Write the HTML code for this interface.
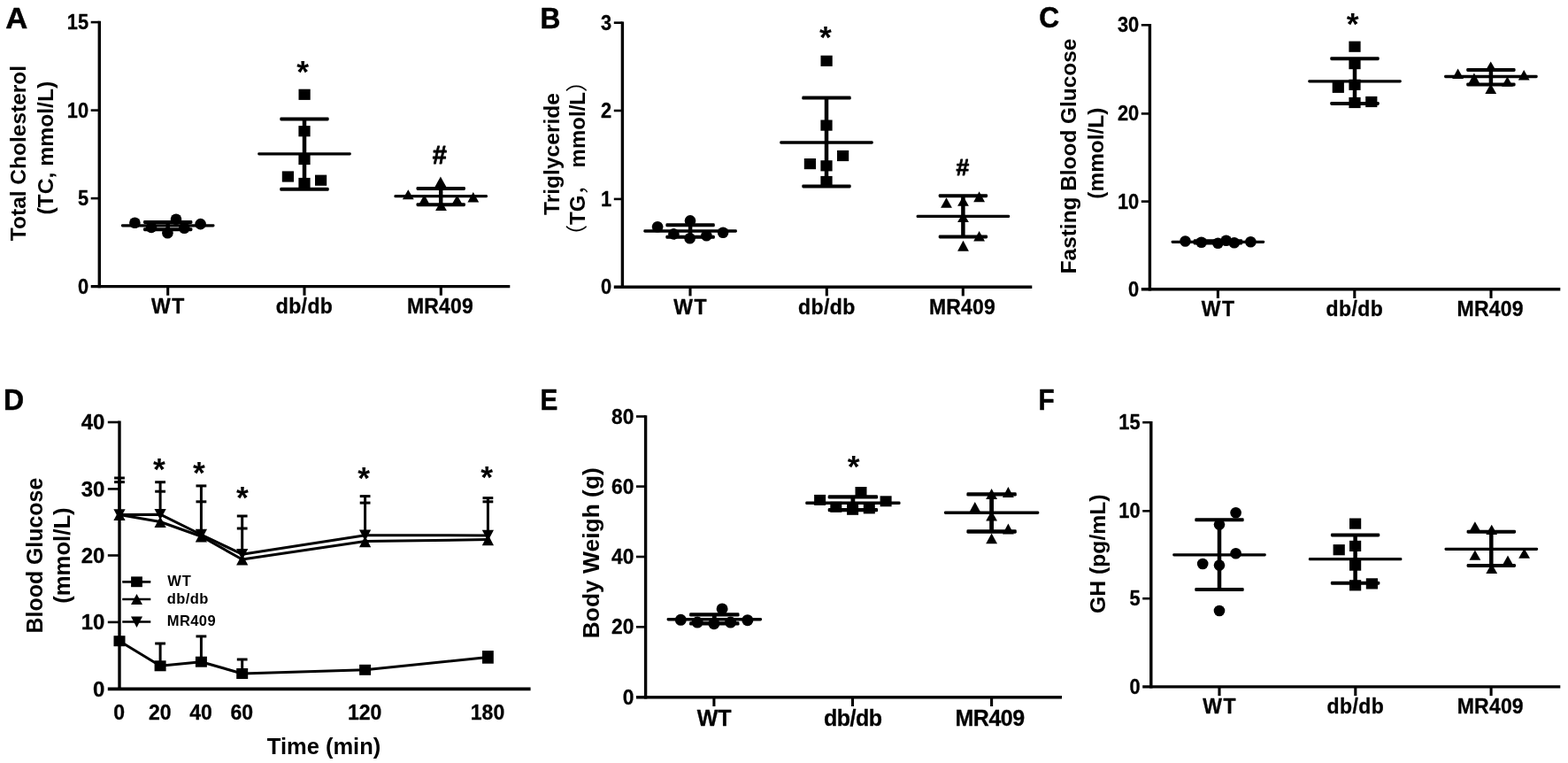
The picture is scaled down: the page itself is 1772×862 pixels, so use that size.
<!DOCTYPE html>
<html lang="en">
<head>
<meta charset="utf-8">
<title>Figure: metabolic parameters in WT, db/db and MR409 mice</title>
<style>
html,body{margin:0;padding:0;background:#fff;}
body{width:1772px;height:862px;overflow:hidden;}
svg{display:block;}
svg text{font-family:"Liberation Sans","Noto Sans CJK SC",sans-serif;font-weight:bold;fill:#000;}
</style>
</head>
<body>
<svg width="1772" height="862" viewBox="0 0 1772 862">
<rect x="0" y="0" width="1772" height="862" fill="#fff" stroke="none"/>
<g fill="#000" stroke="none">
<g id="panelA">
<text x="0" y="0" font-size="33" text-anchor="start" stroke="#000" stroke-width="0.5" stroke-linejoin="round" transform="translate(6.3 31.5) scale(1.05 1)">A</text>
<line stroke="#000" x1="112.3" y1="23.8" x2="112.3" y2="325.3" stroke-width="3.4" stroke-linecap="butt"/>
<line stroke="#000" x1="102.7" y1="323.6" x2="576.3" y2="323.6" stroke-width="3.4" stroke-linecap="butt"/>
<line stroke="#000" x1="102.7" y1="25.1" x2="112.3" y2="25.1" stroke-width="2.6" stroke-linecap="butt"/>
<text x="0" y="0" font-size="23" text-anchor="end" stroke="#000" stroke-width="0.3" stroke-linejoin="round" transform="translate(100.1 33.1) scale(0.95 1)">15</text>
<line stroke="#000" x1="102.7" y1="124.6" x2="112.3" y2="124.6" stroke-width="2.6" stroke-linecap="butt"/>
<text x="0" y="0" font-size="23" text-anchor="end" stroke="#000" stroke-width="0.3" stroke-linejoin="round" transform="translate(100.1 132.6) scale(0.95 1)">10</text>
<line stroke="#000" x1="102.7" y1="224.1" x2="112.3" y2="224.1" stroke-width="2.6" stroke-linecap="butt"/>
<text x="0" y="0" font-size="23" text-anchor="end" stroke="#000" stroke-width="0.3" stroke-linejoin="round" transform="translate(100.1 232.1) scale(0.95 1)">5</text>
<text x="0" y="0" font-size="23" text-anchor="end" stroke="#000" stroke-width="0.3" stroke-linejoin="round" transform="translate(100.1 331.6) scale(0.95 1)">0</text>
<line stroke="#000" x1="189.7" y1="323.6" x2="189.7" y2="333.8" stroke-width="3.1" stroke-linecap="butt"/>
<text x="190.4" y="353.9" font-size="23" text-anchor="middle" letter-spacing="1.5" stroke="#000" stroke-width="0.3" stroke-linejoin="round">WT</text>
<line stroke="#000" x1="344.0" y1="323.6" x2="344.0" y2="333.8" stroke-width="3.1" stroke-linecap="butt"/>
<text x="344.0" y="353.9" font-size="23" text-anchor="middle" letter-spacing="0.4" stroke="#000" stroke-width="0.3" stroke-linejoin="round">db/db</text>
<line stroke="#000" x1="498.3" y1="323.6" x2="498.3" y2="333.8" stroke-width="3.1" stroke-linecap="butt"/>
<text x="497.5" y="353.9" font-size="23" text-anchor="middle" letter-spacing="0.2" stroke="#000" stroke-width="0.3" stroke-linejoin="round">MR409</text>
<text x="0" y="0" font-size="24.5" text-anchor="middle" transform="translate(29.0 173.0) rotate(-90)">Total Cholesterol</text>
<text x="0" y="0" font-size="24.7" text-anchor="middle" transform="translate(59.6 167.2) rotate(-90)">(TC, mmol/L)</text>
<rect x="136.9" y="253.15" width="105.6" height="3.3" rx="1.4"/>
<rect x="162.0" y="249.00" width="55.4" height="4.0" rx="1.4"/>
<rect x="162.0" y="257.20" width="55.4" height="4.0" rx="1.4"/>
<line stroke="#000" x1="189.7" y1="251.0" x2="189.7" y2="259.2" stroke-width="4.5" stroke-linecap="butt"/>
<circle cx="152.4" cy="251.8" r="6.3"/>
<circle cx="171.0" cy="256.9" r="6.3"/>
<circle cx="189.4" cy="263.3" r="6.3"/>
<circle cx="199.0" cy="247.7" r="6.3"/>
<circle cx="208.3" cy="257.7" r="6.3"/>
<circle cx="226.6" cy="253.1" r="6.3"/>
<rect x="291.2" y="172.15" width="105.6" height="3.3" rx="1.4"/>
<rect x="316.3" y="132.50" width="55.4" height="4.0" rx="1.4"/>
<rect x="316.3" y="211.80" width="55.4" height="4.0" rx="1.4"/>
<line stroke="#000" x1="344.0" y1="134.5" x2="344.0" y2="213.8" stroke-width="4.5" stroke-linecap="butt"/>
<rect x="337.5" y="100.7" width="13.2" height="12.2"/>
<rect x="337.4" y="142.1" width="13.2" height="12.2"/>
<rect x="337.4" y="173.9" width="13.2" height="12.2"/>
<rect x="318.8" y="193.4" width="13.2" height="12.2"/>
<rect x="356.0" y="197.6" width="13.2" height="12.2"/>
<rect x="337.4" y="200.9" width="13.2" height="12.2"/>
<rect x="445.4" y="220.05" width="105.6" height="3.3" rx="1.4"/>
<rect x="470.5" y="211.00" width="55.4" height="4.0" rx="1.4"/>
<rect x="470.5" y="229.20" width="55.4" height="4.0" rx="1.4"/>
<line stroke="#000" x1="498.2" y1="213.0" x2="498.2" y2="231.2" stroke-width="4.5" stroke-linecap="butt"/>
<polygon points="454.9,225.3 467.7,225.3 461.3,214.2"/>
<polygon points="473.1,231.6 485.9,231.6 479.5,219.8"/>
<polygon points="491.5,210.9 504.3,210.9 497.9,199.5"/>
<polygon points="492.1,237.9 504.9,237.9 498.5,226.5"/>
<polygon points="510.2,231.6 523.0,231.6 516.6,220.5"/>
<polygon points="528.4,228.6 541.2,228.6 534.8,217.0"/>
<text x="342.2" y="92.9" font-size="35.5" text-anchor="middle">*</text>
<text x="496.9" y="185.1" font-size="29" text-anchor="middle" stroke="#000" stroke-width="0.8" stroke-linejoin="round">#</text>
</g>
<g id="panelB">
<text x="0" y="0" font-size="33" text-anchor="start" stroke="#000" stroke-width="0.5" stroke-linejoin="round" transform="translate(610.6 31.8) scale(0.96 1)">B</text>
<line stroke="#000" x1="703.4" y1="24.4" x2="703.4" y2="325.9" stroke-width="3.4" stroke-linecap="butt"/>
<line stroke="#000" x1="693.8" y1="324.2" x2="1166.3" y2="324.2" stroke-width="3.4" stroke-linecap="butt"/>
<line stroke="#000" x1="693.8" y1="25.7" x2="703.4" y2="25.7" stroke-width="2.6" stroke-linecap="butt"/>
<text x="0" y="0" font-size="23" text-anchor="end" stroke="#000" stroke-width="0.3" stroke-linejoin="round" transform="translate(691.2 33.7) scale(0.95 1)">3</text>
<line stroke="#000" x1="693.8" y1="125.0" x2="703.4" y2="125.0" stroke-width="2.6" stroke-linecap="butt"/>
<text x="0" y="0" font-size="23" text-anchor="end" stroke="#000" stroke-width="0.3" stroke-linejoin="round" transform="translate(691.2 133.0) scale(0.95 1)">2</text>
<line stroke="#000" x1="693.8" y1="224.9" x2="703.4" y2="224.9" stroke-width="2.6" stroke-linecap="butt"/>
<text x="0" y="0" font-size="23" text-anchor="end" stroke="#000" stroke-width="0.3" stroke-linejoin="round" transform="translate(691.2 232.9) scale(0.95 1)">1</text>
<text x="0" y="0" font-size="23" text-anchor="end" stroke="#000" stroke-width="0.3" stroke-linejoin="round" transform="translate(691.2 332.2) scale(0.95 1)">0</text>
<line stroke="#000" x1="780.0" y1="324.2" x2="780.0" y2="334.4" stroke-width="3.1" stroke-linecap="butt"/>
<text x="780.7" y="354.8" font-size="23" text-anchor="middle" letter-spacing="1.5" stroke="#000" stroke-width="0.3" stroke-linejoin="round">WT</text>
<line stroke="#000" x1="934.3" y1="324.2" x2="934.3" y2="334.4" stroke-width="3.1" stroke-linecap="butt"/>
<text x="934.3" y="354.8" font-size="23" text-anchor="middle" letter-spacing="0.4" stroke="#000" stroke-width="0.3" stroke-linejoin="round">db/db</text>
<line stroke="#000" x1="1088.3" y1="324.2" x2="1088.3" y2="334.4" stroke-width="3.1" stroke-linecap="butt"/>
<text x="1087.5" y="354.8" font-size="23" text-anchor="middle" letter-spacing="0.2" stroke="#000" stroke-width="0.3" stroke-linejoin="round">MR409</text>
<text x="0" y="0" font-size="24.6" text-anchor="middle" transform="translate(631.5 174.0) rotate(-90)">Triglyceride</text>
<text x="661.0" y="179.0" font-size="24" text-anchor="middle" transform="rotate(-90 661.0 179.0)"><tspan font-weight="normal" font-size="24.6">（</tspan>TG<tspan font-weight="normal" font-size="24.6">，</tspan> mmol/L<tspan font-weight="normal" font-size="24.6">）</tspan></text>
<rect x="727.3" y="259.35" width="105.6" height="3.3" rx="1.4"/>
<rect x="752.4" y="252.30" width="55.4" height="4.0" rx="1.4"/>
<rect x="752.4" y="265.80" width="55.4" height="4.0" rx="1.4"/>
<line stroke="#000" x1="780.1" y1="254.3" x2="780.1" y2="267.8" stroke-width="4.5" stroke-linecap="butt"/>
<circle cx="743.1" cy="256.3" r="6.3"/>
<circle cx="761.4" cy="264.4" r="6.3"/>
<circle cx="780.0" cy="249.4" r="6.3"/>
<circle cx="779.6" cy="269.3" r="6.3"/>
<circle cx="798.4" cy="266.2" r="6.3"/>
<circle cx="817.1" cy="262.8" r="6.3"/>
<rect x="881.2" y="159.35" width="105.6" height="3.3" rx="1.4"/>
<rect x="906.3" y="108.60" width="55.4" height="4.0" rx="1.4"/>
<rect x="906.3" y="208.40" width="55.4" height="4.0" rx="1.4"/>
<line stroke="#000" x1="934.0" y1="110.6" x2="934.0" y2="210.4" stroke-width="4.5" stroke-linecap="butt"/>
<rect x="927.5" y="62.7" width="13.2" height="12.2"/>
<rect x="927.4" y="135.5" width="13.2" height="12.2"/>
<rect x="946.0" y="169.9" width="13.2" height="12.2"/>
<rect x="908.8" y="179.0" width="13.2" height="12.2"/>
<rect x="927.4" y="181.2" width="13.2" height="12.2"/>
<rect x="927.4" y="198.9" width="13.2" height="12.2"/>
<rect x="1035.6" y="242.75" width="105.6" height="3.3" rx="1.4"/>
<rect x="1060.7" y="219.20" width="55.4" height="4.0" rx="1.4"/>
<rect x="1060.7" y="265.50" width="55.4" height="4.0" rx="1.4"/>
<line stroke="#000" x1="1088.4" y1="221.2" x2="1088.4" y2="267.5" stroke-width="4.5" stroke-linecap="butt"/>
<polygon points="1063.1,234.7 1075.9,234.7 1069.5,223.3"/>
<polygon points="1082.1,232.7 1094.9,232.7 1088.5,221.5"/>
<polygon points="1100.2,228.2 1113.0,228.2 1106.6,216.3"/>
<polygon points="1082.1,250.9 1094.9,250.9 1088.5,240.0"/>
<polygon points="1100.2,272.6 1113.0,272.6 1106.6,261.0"/>
<polygon points="1082.1,283.7 1094.9,283.7 1088.5,271.8"/>
<text x="932.8" y="53.5" font-size="35.5" text-anchor="middle">*</text>
<text x="1087.9" y="197.9" font-size="26.5" text-anchor="middle" stroke="#000" stroke-width="0.8" stroke-linejoin="round">#</text>
</g>
<g id="panelC">
<text x="0" y="0" font-size="33" text-anchor="start" stroke="#000" stroke-width="0.5" stroke-linejoin="round" transform="translate(1174.3 30.8) scale(0.96 1)">C</text>
<line stroke="#000" x1="1299.4" y1="27.0" x2="1299.4" y2="328.5" stroke-width="3.4" stroke-linecap="butt"/>
<line stroke="#000" x1="1289.8" y1="326.8" x2="1763.3" y2="326.8" stroke-width="3.4" stroke-linecap="butt"/>
<line stroke="#000" x1="1289.8" y1="28.3" x2="1299.4" y2="28.3" stroke-width="2.6" stroke-linecap="butt"/>
<text x="0" y="0" font-size="23" text-anchor="end" stroke="#000" stroke-width="0.3" stroke-linejoin="round" transform="translate(1287.2 36.3) scale(0.95 1)">30</text>
<line stroke="#000" x1="1289.8" y1="128.4" x2="1299.4" y2="128.4" stroke-width="2.6" stroke-linecap="butt"/>
<text x="0" y="0" font-size="23" text-anchor="end" stroke="#000" stroke-width="0.3" stroke-linejoin="round" transform="translate(1287.2 136.4) scale(0.95 1)">20</text>
<line stroke="#000" x1="1289.8" y1="227.6" x2="1299.4" y2="227.6" stroke-width="2.6" stroke-linecap="butt"/>
<text x="0" y="0" font-size="23" text-anchor="end" stroke="#000" stroke-width="0.3" stroke-linejoin="round" transform="translate(1287.2 235.6) scale(0.95 1)">10</text>
<text x="0" y="0" font-size="23" text-anchor="end" stroke="#000" stroke-width="0.3" stroke-linejoin="round" transform="translate(1287.2 334.8) scale(0.95 1)">0</text>
<line stroke="#000" x1="1376.4" y1="326.8" x2="1376.4" y2="337.0" stroke-width="3.1" stroke-linecap="butt"/>
<text x="1377.1" y="357.3" font-size="23" text-anchor="middle" letter-spacing="1.5" stroke="#000" stroke-width="0.3" stroke-linejoin="round">WT</text>
<line stroke="#000" x1="1530.8" y1="326.8" x2="1530.8" y2="337.0" stroke-width="3.1" stroke-linecap="butt"/>
<text x="1530.8" y="357.3" font-size="23" text-anchor="middle" letter-spacing="0.4" stroke="#000" stroke-width="0.3" stroke-linejoin="round">db/db</text>
<line stroke="#000" x1="1685.0" y1="326.8" x2="1685.0" y2="337.0" stroke-width="3.1" stroke-linecap="butt"/>
<text x="1684.2" y="357.3" font-size="23" text-anchor="middle" letter-spacing="0.2" stroke="#000" stroke-width="0.3" stroke-linejoin="round">MR409</text>
<text x="0" y="0" font-size="24.4" text-anchor="middle" transform="translate(1216.0 176.5) rotate(-90)">Fasting Blood Glucose</text>
<text x="0" y="0" font-size="24.4" text-anchor="middle" transform="translate(1246.6 173.2) rotate(-90)">(mmol/L)</text>
<rect x="1323.6" y="271.65" width="105.6" height="3.3" rx="1.4"/>
<rect x="1348.7" y="270.20" width="55.4" height="4.0" rx="1.4"/>
<rect x="1348.7" y="272.60" width="55.4" height="4.0" rx="1.4"/>
<line stroke="#000" x1="1376.4" y1="272.2" x2="1376.4" y2="274.6" stroke-width="4.5" stroke-linecap="butt"/>
<circle cx="1339.5" cy="272.5" r="6.3"/>
<circle cx="1357.7" cy="273.7" r="6.3"/>
<circle cx="1376.4" cy="274.7" r="6.3"/>
<circle cx="1385.7" cy="271.7" r="6.3"/>
<circle cx="1394.8" cy="274.3" r="6.3"/>
<circle cx="1413.4" cy="273.3" r="6.3"/>
<rect x="1478.2" y="90.15" width="105.6" height="3.3" rx="1.4"/>
<rect x="1503.3" y="64.20" width="55.4" height="4.0" rx="1.4"/>
<rect x="1503.3" y="114.90" width="55.4" height="4.0" rx="1.4"/>
<line stroke="#000" x1="1531.0" y1="66.2" x2="1531.0" y2="116.9" stroke-width="4.5" stroke-linecap="butt"/>
<rect x="1524.4" y="46.6" width="13.2" height="12.2"/>
<rect x="1524.4" y="66.0" width="13.2" height="12.2"/>
<rect x="1505.7" y="92.7" width="13.2" height="12.2"/>
<rect x="1524.4" y="89.7" width="13.2" height="12.2"/>
<rect x="1524.4" y="109.9" width="13.2" height="12.2"/>
<rect x="1543.2" y="108.9" width="13.2" height="12.2"/>
<rect x="1632.1" y="84.85" width="105.6" height="3.3" rx="1.4"/>
<rect x="1657.2" y="77.00" width="55.4" height="4.0" rx="1.4"/>
<rect x="1657.2" y="93.40" width="55.4" height="4.0" rx="1.4"/>
<line stroke="#000" x1="1684.9" y1="79.0" x2="1684.9" y2="95.4" stroke-width="4.5" stroke-linecap="butt"/>
<polygon points="1641.2,88.9 1654.0,88.9 1647.6,77.5"/>
<polygon points="1659.5,94.4 1672.3,94.4 1665.9,82.5"/>
<polygon points="1678.3,80.5 1691.1,80.5 1684.7,69.5"/>
<polygon points="1678.3,106.1 1691.1,106.1 1684.7,94.5"/>
<polygon points="1697.1,97.8 1709.9,97.8 1703.5,86.5"/>
<polygon points="1715.8,90.5 1728.6,90.5 1722.2,79.0"/>
<text x="1528.7" y="38.7" font-size="35.5" text-anchor="middle">*</text>
</g>
<g id="panelD">
<text x="0" y="0" font-size="33" text-anchor="start" stroke="#000" stroke-width="0.5" stroke-linejoin="round" transform="translate(4.0 463.2) scale(0.97 1)">D</text>
<line stroke="#000" x1="135.0" y1="475.4" x2="135.0" y2="780.0" stroke-width="3.4" stroke-linecap="butt"/>
<line stroke="#000" x1="121.8" y1="778.3" x2="599.6" y2="778.3" stroke-width="3.8" stroke-linecap="butt"/>
<line stroke="#000" x1="121.8" y1="477.0" x2="135.0" y2="477.0" stroke-width="2.6" stroke-linecap="butt"/>
<text x="118.4" y="485.1" font-size="24" text-anchor="end" stroke="#000" stroke-width="0.3" stroke-linejoin="round">40</text>
<line stroke="#000" x1="121.8" y1="552.4" x2="135.0" y2="552.4" stroke-width="2.6" stroke-linecap="butt"/>
<text x="118.4" y="560.5" font-size="24" text-anchor="end" stroke="#000" stroke-width="0.3" stroke-linejoin="round">30</text>
<line stroke="#000" x1="121.8" y1="627.5" x2="135.0" y2="627.5" stroke-width="2.6" stroke-linecap="butt"/>
<text x="118.4" y="635.6" font-size="24" text-anchor="end" stroke="#000" stroke-width="0.3" stroke-linejoin="round">20</text>
<line stroke="#000" x1="121.8" y1="702.9" x2="135.0" y2="702.9" stroke-width="2.6" stroke-linecap="butt"/>
<text x="118.4" y="711.0" font-size="24" text-anchor="end" stroke="#000" stroke-width="0.3" stroke-linejoin="round">10</text>
<text x="118.4" y="786.7" font-size="24" text-anchor="end" stroke="#000" stroke-width="0.3" stroke-linejoin="round">0</text>
<text x="0" y="0" font-size="23.5" text-anchor="middle" stroke="#000" stroke-width="0.3" stroke-linejoin="round" transform="translate(134.6 812.6) scale(0.98 1)">0</text>
<text x="0" y="0" font-size="23.5" text-anchor="middle" stroke="#000" stroke-width="0.3" stroke-linejoin="round" transform="translate(180.7 812.6) scale(0.98 1)">20</text>
<text x="0" y="0" font-size="23.5" text-anchor="middle" stroke="#000" stroke-width="0.3" stroke-linejoin="round" transform="translate(227.0 812.6) scale(0.98 1)">40</text>
<text x="0" y="0" font-size="23.5" text-anchor="middle" stroke="#000" stroke-width="0.3" stroke-linejoin="round" transform="translate(273.3 812.6) scale(0.98 1)">60</text>
<text x="0" y="0" font-size="23.5" text-anchor="middle" stroke="#000" stroke-width="0.3" stroke-linejoin="round" transform="translate(412.2 812.6) scale(0.98 1)">120</text>
<text x="0" y="0" font-size="23.5" text-anchor="middle" stroke="#000" stroke-width="0.3" stroke-linejoin="round" transform="translate(551.0 812.6) scale(0.98 1)">180</text>
<text x="366.0" y="852.0" font-size="25.5" text-anchor="middle">Time (min)</text>
<text x="0" y="0" font-size="24.9" text-anchor="middle" transform="translate(48.4 627.6) rotate(-90)">Blood Glucose</text>
<text x="0" y="0" font-size="25.7" text-anchor="middle" transform="translate(78.8 627.6) rotate(-90)">(mmol/L)</text>
<line stroke="#000" x1="135.0" y1="581.4" x2="135.0" y2="540.0" stroke-width="3.0" stroke-linecap="butt"/>
<line stroke="#000" x1="129.1" y1="540.0" x2="140.9" y2="540.0" stroke-width="3.0" stroke-linecap="butt"/>
<line stroke="#000" x1="129.1" y1="544.6" x2="140.9" y2="544.6" stroke-width="3.0" stroke-linecap="butt"/>
<line stroke="#000" x1="181.1" y1="581.2" x2="181.1" y2="544.7" stroke-width="3.0" stroke-linecap="butt"/>
<line stroke="#000" x1="175.2" y1="544.7" x2="187.0" y2="544.7" stroke-width="3.0" stroke-linecap="butt"/>
<line stroke="#000" x1="175.2" y1="555.2" x2="187.0" y2="555.2" stroke-width="3.0" stroke-linecap="butt"/>
<line stroke="#000" x1="227.4" y1="604.0" x2="227.4" y2="548.9" stroke-width="3.0" stroke-linecap="butt"/>
<line stroke="#000" x1="221.5" y1="548.9" x2="233.3" y2="548.9" stroke-width="3.0" stroke-linecap="butt"/>
<line stroke="#000" x1="221.5" y1="566.8" x2="233.3" y2="566.8" stroke-width="3.0" stroke-linecap="butt"/>
<line stroke="#000" x1="273.7" y1="626.2" x2="273.7" y2="583.0" stroke-width="3.0" stroke-linecap="butt"/>
<line stroke="#000" x1="267.8" y1="583.0" x2="279.6" y2="583.0" stroke-width="3.0" stroke-linecap="butt"/>
<line stroke="#000" x1="267.8" y1="597.0" x2="279.6" y2="597.0" stroke-width="3.0" stroke-linecap="butt"/>
<line stroke="#000" x1="412.6" y1="604.8" x2="412.6" y2="560.6" stroke-width="3.0" stroke-linecap="butt"/>
<line stroke="#000" x1="406.7" y1="560.6" x2="418.5" y2="560.6" stroke-width="3.0" stroke-linecap="butt"/>
<line stroke="#000" x1="406.7" y1="568.1" x2="418.5" y2="568.1" stroke-width="3.0" stroke-linecap="butt"/>
<line stroke="#000" x1="551.4" y1="604.9" x2="551.4" y2="562.6" stroke-width="3.0" stroke-linecap="butt"/>
<line stroke="#000" x1="545.5" y1="562.6" x2="557.3" y2="562.6" stroke-width="3.0" stroke-linecap="butt"/>
<line stroke="#000" x1="545.5" y1="566.8" x2="557.3" y2="566.8" stroke-width="3.0" stroke-linecap="butt"/>
<line stroke="#000" x1="181.1" y1="752.3" x2="181.1" y2="727.0" stroke-width="3.0" stroke-linecap="butt"/>
<line stroke="#000" x1="175.2" y1="727.0" x2="187.0" y2="727.0" stroke-width="3.0" stroke-linecap="butt"/>
<line stroke="#000" x1="227.4" y1="747.7" x2="227.4" y2="718.9" stroke-width="3.0" stroke-linecap="butt"/>
<line stroke="#000" x1="221.5" y1="718.9" x2="233.3" y2="718.9" stroke-width="3.0" stroke-linecap="butt"/>
<line stroke="#000" x1="273.7" y1="761.0" x2="273.7" y2="745.0" stroke-width="3.0" stroke-linecap="butt"/>
<line stroke="#000" x1="267.8" y1="745.0" x2="279.6" y2="745.0" stroke-width="3.0" stroke-linecap="butt"/>
<polyline fill="none" stroke="#000" stroke-width="3.0" stroke-linejoin="round" points="135.0,581.4 181.1,589.5 227.4,606.0 273.7,632.0 412.6,611.6 551.4,609.6"/>
<polyline fill="none" stroke="#000" stroke-width="3.0" stroke-linejoin="round" points="135.0,581.4 181.1,581.2 227.4,604.0 273.7,626.2 412.6,604.8 551.4,604.9"/>
<polyline fill="none" stroke="#000" stroke-width="3.0" stroke-linejoin="round" points="135.0,724.2 181.1,752.3 227.4,747.7 273.7,761.0 412.6,756.8 551.4,742.4"/>
<polygon points="128.4,588.0 141.6,588.0 135.0,575.4"/>
<polygon points="128.4,575.2 141.6,575.2 135.0,587.8"/>
<rect x="128.5" y="718.2" width="13.0" height="12.0"/>
<polygon points="174.5,596.1 187.7,596.1 181.1,583.5"/>
<polygon points="174.5,575.0 187.7,575.0 181.1,587.6"/>
<rect x="174.6" y="746.3" width="13.0" height="12.0"/>
<polygon points="220.8,612.6 234.0,612.6 227.4,600.0"/>
<polygon points="220.8,597.8 234.0,597.8 227.4,610.4"/>
<rect x="220.9" y="741.7" width="13.0" height="12.0"/>
<polygon points="267.1,638.6 280.3,638.6 273.7,626.0"/>
<polygon points="267.1,620.0 280.3,620.0 273.7,632.6"/>
<rect x="267.2" y="755.0" width="13.0" height="12.0"/>
<polygon points="406.0,618.2 419.2,618.2 412.6,605.6"/>
<polygon points="406.0,598.6 419.2,598.6 412.6,611.2"/>
<rect x="406.1" y="750.8" width="13.0" height="12.0"/>
<polygon points="544.8,616.2 558.0,616.2 551.4,603.6"/>
<polygon points="544.8,598.7 558.0,598.7 551.4,611.3"/>
<rect x="545.0" y="735.1" width="12.8" height="14.6"/>
<line stroke="#000" x1="138.2" y1="657.3" x2="170.3" y2="657.3" stroke-width="2.7" stroke-linecap="butt"/>
<rect x="148.1" y="651.4" width="12.8" height="11.8"/>
<line stroke="#000" x1="138.2" y1="677.0" x2="170.3" y2="677.0" stroke-width="2.7" stroke-linecap="butt"/>
<polygon points="148.0,683.0 161.0,683.0 154.5,671.0"/>
<line stroke="#000" x1="138.2" y1="702.5" x2="170.3" y2="702.5" stroke-width="2.7" stroke-linecap="butt"/>
<polygon points="148.0,696.5 161.0,696.5 154.5,709.0"/>
<text x="189.2" y="662.0" font-size="16.5" text-anchor="start" letter-spacing="1.0">WT</text>
<text x="188.8" y="681.8" font-size="16.5" text-anchor="start" letter-spacing="0.4">db/db</text>
<text x="188.8" y="707.4" font-size="16.5" text-anchor="start" letter-spacing="0.4">MR409</text>
<text x="180.0" y="542.2" font-size="35.5" text-anchor="middle">*</text>
<text x="224.8" y="546.3" font-size="35.5" text-anchor="middle">*</text>
<text x="273.8" y="573.8" font-size="35.5" text-anchor="middle">*</text>
<text x="411.1" y="551.6" font-size="35.5" text-anchor="middle">*</text>
<text x="550.2" y="550.6" font-size="35.5" text-anchor="middle">*</text>
</g>
<g id="panelE">
<text x="0" y="0" font-size="33" text-anchor="start" stroke="#000" stroke-width="0.5" stroke-linejoin="round" transform="translate(610.6 463.2) scale(0.9 1)">E</text>
<line stroke="#000" x1="729.6" y1="469.2" x2="729.6" y2="789.5" stroke-width="3.4" stroke-linecap="butt"/>
<line stroke="#000" x1="719.0" y1="787.8" x2="1200.0" y2="787.8" stroke-width="3.4" stroke-linecap="butt"/>
<line stroke="#000" x1="719.0" y1="470.5" x2="729.6" y2="470.5" stroke-width="2.6" stroke-linecap="butt"/>
<text x="0" y="0" font-size="24" text-anchor="end" stroke="#000" stroke-width="0.3" stroke-linejoin="round" transform="translate(716.4 478.5) scale(0.95 1)">80</text>
<line stroke="#000" x1="719.0" y1="549.6" x2="729.6" y2="549.6" stroke-width="2.6" stroke-linecap="butt"/>
<text x="0" y="0" font-size="24" text-anchor="end" stroke="#000" stroke-width="0.3" stroke-linejoin="round" transform="translate(716.4 557.6) scale(0.95 1)">60</text>
<line stroke="#000" x1="719.0" y1="629.0" x2="729.6" y2="629.0" stroke-width="2.6" stroke-linecap="butt"/>
<text x="0" y="0" font-size="24" text-anchor="end" stroke="#000" stroke-width="0.3" stroke-linejoin="round" transform="translate(716.4 637.0) scale(0.95 1)">40</text>
<line stroke="#000" x1="719.0" y1="708.3" x2="729.6" y2="708.3" stroke-width="2.6" stroke-linecap="butt"/>
<text x="0" y="0" font-size="24" text-anchor="end" stroke="#000" stroke-width="0.3" stroke-linejoin="round" transform="translate(716.4 716.3) scale(0.95 1)">20</text>
<text x="0" y="0" font-size="24" text-anchor="end" stroke="#000" stroke-width="0.3" stroke-linejoin="round" transform="translate(716.4 795.8) scale(0.95 1)">0</text>
<line stroke="#000" x1="806.9" y1="787.8" x2="806.9" y2="798.0" stroke-width="3.1" stroke-linecap="butt"/>
<text x="807.1" y="820.2" font-size="25" text-anchor="middle" stroke="#000" stroke-width="0.3" stroke-linejoin="round">WT</text>
<line stroke="#000" x1="963.5" y1="787.8" x2="963.5" y2="798.0" stroke-width="3.1" stroke-linecap="butt"/>
<text x="963.8" y="820.2" font-size="25" text-anchor="middle" letter-spacing="-0.5" stroke="#000" stroke-width="0.3" stroke-linejoin="round">db/db</text>
<line stroke="#000" x1="1120.6" y1="787.8" x2="1120.6" y2="798.0" stroke-width="3.1" stroke-linecap="butt"/>
<text x="1118.6" y="820.2" font-size="25" text-anchor="middle" letter-spacing="-0.5" stroke="#000" stroke-width="0.3" stroke-linejoin="round">MR409</text>
<text x="0" y="0" font-size="26.4" text-anchor="middle" transform="translate(676.8 624.7) rotate(-90)">Body Weigh (g)</text>
<rect x="753.6" y="697.90" width="107.4" height="3.6" rx="1.4"/>
<rect x="779.1" y="692.25" width="56.4" height="4.3" rx="1.4"/>
<rect x="779.1" y="702.25" width="56.4" height="4.3" rx="1.4"/>
<line stroke="#000" x1="807.3" y1="694.4" x2="807.3" y2="704.4" stroke-width="4.8" stroke-linecap="butt"/>
<circle cx="769.3" cy="700.3" r="6.5"/>
<circle cx="788.1" cy="703.1" r="6.5"/>
<circle cx="806.9" cy="704.7" r="6.5"/>
<circle cx="816.1" cy="687.9" r="6.5"/>
<circle cx="825.6" cy="703.1" r="6.5"/>
<circle cx="844.8" cy="700.7" r="6.5"/>
<rect x="910.2" y="566.50" width="107.4" height="3.6" rx="1.4"/>
<rect x="935.7" y="559.25" width="56.4" height="4.3" rx="1.4"/>
<rect x="935.7" y="574.05" width="56.4" height="4.3" rx="1.4"/>
<line stroke="#000" x1="963.9" y1="561.4" x2="963.9" y2="576.2" stroke-width="4.8" stroke-linecap="butt"/>
<rect x="920.1" y="558.9" width="13.0" height="12.0"/>
<rect x="938.3" y="566.8" width="13.0" height="12.0"/>
<rect x="957.1" y="569.8" width="13.0" height="12.0"/>
<rect x="966.5" y="550.0" width="13.0" height="12.0"/>
<rect x="975.8" y="568.4" width="13.0" height="12.0"/>
<rect x="994.6" y="560.3" width="13.0" height="12.0"/>
<rect x="1066.9" y="577.40" width="107.4" height="3.6" rx="1.4"/>
<rect x="1092.4" y="556.25" width="56.4" height="4.3" rx="1.4"/>
<rect x="1092.4" y="598.35" width="56.4" height="4.3" rx="1.4"/>
<line stroke="#000" x1="1120.6" y1="558.4" x2="1120.6" y2="600.5" stroke-width="4.8" stroke-linecap="butt"/>
<polygon points="1095.4,578.8 1108.2,578.8 1101.8,567.0"/>
<polygon points="1114.2,564.0 1127.0,564.0 1120.6,552.1"/>
<polygon points="1133.0,562.0 1145.8,562.0 1139.4,550.1"/>
<polygon points="1114.2,588.6 1127.0,588.6 1120.6,577.0"/>
<polygon points="1133.0,603.4 1145.8,603.4 1139.4,591.5"/>
<polygon points="1114.2,614.3 1127.0,614.3 1120.6,602.5"/>
<text x="964.6" y="538.5" font-size="35.5" text-anchor="middle">*</text>
</g>
<g id="panelF">
<text x="0" y="0" font-size="33" text-anchor="start" stroke="#000" stroke-width="0.5" stroke-linejoin="round" transform="translate(1173.6 463.2) scale(0.9 1)">F</text>
<line stroke="#000" x1="1300.8" y1="475.9" x2="1300.8" y2="777.6" stroke-width="3.4" stroke-linecap="butt"/>
<line stroke="#000" x1="1291.2" y1="775.9" x2="1763.3" y2="775.9" stroke-width="3.4" stroke-linecap="butt"/>
<line stroke="#000" x1="1291.2" y1="477.2" x2="1300.8" y2="477.2" stroke-width="2.6" stroke-linecap="butt"/>
<text x="0" y="0" font-size="23" text-anchor="end" stroke="#000" stroke-width="0.3" stroke-linejoin="round" transform="translate(1288.6 485.2) scale(0.95 1)">15</text>
<line stroke="#000" x1="1291.2" y1="577.3" x2="1300.8" y2="577.3" stroke-width="2.6" stroke-linecap="butt"/>
<text x="0" y="0" font-size="23" text-anchor="end" stroke="#000" stroke-width="0.3" stroke-linejoin="round" transform="translate(1288.6 585.3) scale(0.95 1)">10</text>
<line stroke="#000" x1="1291.2" y1="676.2" x2="1300.8" y2="676.2" stroke-width="2.6" stroke-linecap="butt"/>
<text x="0" y="0" font-size="23" text-anchor="end" stroke="#000" stroke-width="0.3" stroke-linejoin="round" transform="translate(1288.6 684.2) scale(0.95 1)">5</text>
<text x="0" y="0" font-size="23" text-anchor="end" stroke="#000" stroke-width="0.3" stroke-linejoin="round" transform="translate(1288.6 783.9) scale(0.95 1)">0</text>
<line stroke="#000" x1="1378.0" y1="775.9" x2="1378.0" y2="786.1" stroke-width="3.1" stroke-linecap="butt"/>
<text x="1378.7" y="806.2" font-size="23" text-anchor="middle" letter-spacing="1.5" stroke="#000" stroke-width="0.3" stroke-linejoin="round">WT</text>
<line stroke="#000" x1="1531.8" y1="775.9" x2="1531.8" y2="786.1" stroke-width="3.1" stroke-linecap="butt"/>
<text x="1531.8" y="806.2" font-size="23" text-anchor="middle" letter-spacing="0.4" stroke="#000" stroke-width="0.3" stroke-linejoin="round">db/db</text>
<line stroke="#000" x1="1685.1" y1="775.9" x2="1685.1" y2="786.1" stroke-width="3.1" stroke-linecap="butt"/>
<text x="1684.3" y="806.2" font-size="23" text-anchor="middle" letter-spacing="0.2" stroke="#000" stroke-width="0.3" stroke-linejoin="round">MR409</text>
<text x="0" y="0" font-size="24.7" text-anchor="middle" transform="translate(1249.3 625.7) rotate(-90)">GH (pg/mL)</text>
<rect x="1325.2" y="625.15" width="105.6" height="3.3" rx="1.4"/>
<rect x="1350.3" y="585.30" width="55.4" height="4.0" rx="1.4"/>
<rect x="1350.3" y="664.10" width="55.4" height="4.0" rx="1.4"/>
<line stroke="#000" x1="1378.0" y1="587.3" x2="1378.0" y2="666.1" stroke-width="4.5" stroke-linecap="butt"/>
<circle cx="1396.6" cy="579.2" r="6.3"/>
<circle cx="1378.0" cy="592.6" r="6.3"/>
<circle cx="1396.6" cy="625.2" r="6.3"/>
<circle cx="1359.2" cy="637.0" r="6.3"/>
<circle cx="1378.0" cy="638.6" r="6.3"/>
<circle cx="1378.0" cy="690.0" r="6.3"/>
<rect x="1478.8" y="630.05" width="105.6" height="3.3" rx="1.4"/>
<rect x="1503.9" y="602.50" width="55.4" height="4.0" rx="1.4"/>
<rect x="1503.9" y="656.80" width="55.4" height="4.0" rx="1.4"/>
<line stroke="#000" x1="1531.6" y1="604.5" x2="1531.6" y2="658.8" stroke-width="4.5" stroke-linecap="butt"/>
<rect x="1525.0" y="585.5" width="13.2" height="12.2"/>
<rect x="1506.6" y="615.1" width="13.2" height="12.2"/>
<rect x="1525.0" y="610.8" width="13.2" height="12.2"/>
<rect x="1525.0" y="632.5" width="13.2" height="12.2"/>
<rect x="1525.0" y="655.2" width="13.2" height="12.2"/>
<rect x="1543.8" y="653.3" width="13.2" height="12.2"/>
<rect x="1632.5" y="618.65" width="105.6" height="3.3" rx="1.4"/>
<rect x="1657.6" y="598.70" width="55.4" height="4.0" rx="1.4"/>
<rect x="1657.6" y="637.00" width="55.4" height="4.0" rx="1.4"/>
<line stroke="#000" x1="1685.3" y1="600.7" x2="1685.3" y2="639.0" stroke-width="4.5" stroke-linecap="butt"/>
<polygon points="1660.5,600.6 1673.3,600.6 1666.9,589.3"/>
<polygon points="1679.3,604.0 1692.1,604.0 1685.7,592.8"/>
<polygon points="1660.5,632.7 1673.3,632.7 1666.9,621.5"/>
<polygon points="1716.2,630.7 1729.0,630.7 1722.6,619.5"/>
<polygon points="1697.6,639.0 1710.4,639.0 1704.0,627.5"/>
<polygon points="1679.3,647.9 1692.1,647.9 1685.7,636.5"/>
</g>
</g>
</svg>
</body>
</html>
